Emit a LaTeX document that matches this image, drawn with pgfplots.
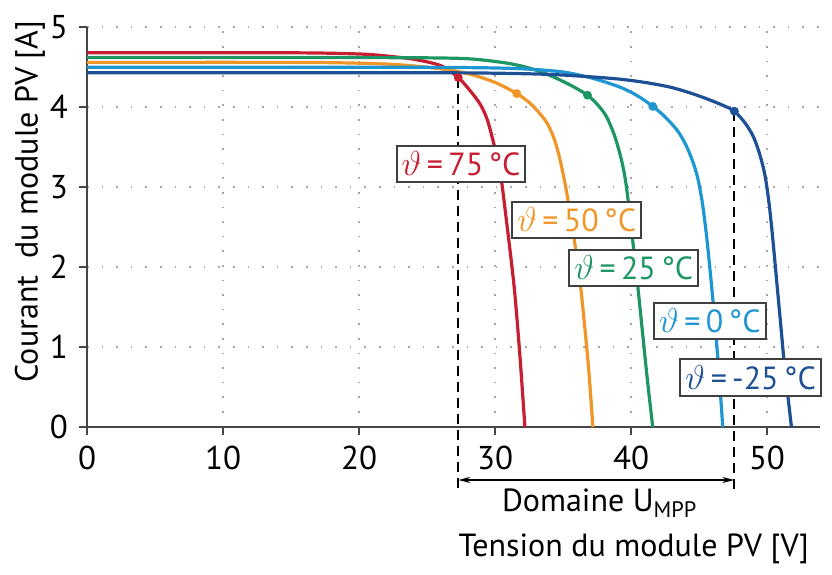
\documentclass[border=0pt]{standalone}
\usepackage{pgfplots}
\pgfplotsset{compat=1.18}
\usepackage{fontspec}
\setmainfont{PT Sans}
\usetikzlibrary{arrows.meta}
\definecolor{cred}{RGB}{200,30,50}
\definecolor{corange}{RGB}{240,150,40}
\definecolor{cgreen}{RGB}{30,150,100}
\definecolor{clblue}{RGB}{30,150,210}
\definecolor{cdblue}{RGB}{30,80,150}
\definecolor{axgray}{RGB}{70,70,70}
\begin{document}
\begin{tikzpicture}
\fontsize{16}{18}\selectfont
\begin{axis}[
  scale only axis,
  width=366.5pt, height=200pt,
  xmin=0, xmax=53.9, ymin=0, ymax=5,
  axis lines=left,
  axis line style={-, axgray, line width=1pt},
  xtick={0,10,20,30,40,50},
  ytick={0,1,2,3,4,5},
  tick align=outside,
  major tick length=4pt,
  tick style={axgray, line width=1pt},
  grid=major,
  major grid style={gray!70, line width=1.1pt, dash pattern=on 0.8pt off 6.5pt},
  ticklabel style={font=\fontsize{16.5}{18}\selectfont},
  /pgf/number format/assume math mode=true,
  clip=false,
]
% bounding box
\path (axis cs:-6.4,5.34) rectangle (axis cs:54.78,-1.7);
% dashed MPP range lines
\draw[black, line width=0.9pt, dash pattern=on 5pt off 3pt] (axis cs:27.3,4.37) -- (axis cs:27.3,-0.8);
\draw[black, line width=0.9pt, dash pattern=on 5pt off 3pt] (axis cs:47.6,3.95) -- (axis cs:47.6,-0.8);
\draw[black, line width=0.9pt, {Stealth[length=6pt,width=3pt]}-{Stealth[length=6pt,width=3pt]}] (axis cs:27.3,-0.66) -- (axis cs:47.6,-0.66);
\node[anchor=center] at (axis cs:37.7,-0.95) {Domaine U\textsubscript{MPP}};
\node[anchor=east] at (axis cs:53.9,-1.52) {Tension du module PV [V]};
\node[rotate=90, anchor=center] at (axis cs:-4.2,2.82) {Courant\ \ du module PV [A]};
% curves
\addplot[cred, line width=1.6pt, smooth, tension=0.5] coordinates {
 (0,4.68) (15,4.68) (20,4.665) (22,4.64) (24,4.6) (26,4.52) (27.3,4.37) (28.2,4.2)
 (28.9,4.04) (29.4,3.86) (29.8,3.62) (30.2,3.33) (30.5,3.05) (30.9,2.5) (31.25,2.0)
 (31.5,1.59) (31.85,0.85) (32.2,0)};
\addplot[corange, line width=1.6pt, smooth, tension=0.5] coordinates {
 (0,4.56) (15,4.56) (20,4.55) (23,4.53) (26,4.48) (28,4.42) (30,4.31) (31.6,4.17)
 (32.5,4.06) (33.3,3.92) (33.9,3.78) (34.4,3.58) (34.8,3.33) (35.2,3.0) (35.6,2.6)
 (35.95,2.2) (36.3,1.75) (36.6,1.25) (36.9,0.7) (37.2,0)};
\addplot[cgreen, line width=1.6pt, smooth, tension=0.5] coordinates {
 (0,4.62) (20,4.62) (26,4.615) (28.5,4.6) (30.9,4.55) (32.5,4.49) (34.0,4.40) (35.5,4.28)
 (36.8,4.15) (37.6,4.02) (38.2,3.88) (38.8,3.64) (39.3,3.34) (39.6,3.08) (39.9,2.68)
 (40.2,2.22) (40.5,1.76) (40.85,1.18) (41.2,0.6) (41.6,0)};
\addplot[clblue, line width=1.6pt, smooth, tension=0.5] coordinates {
 (0,4.50) (20,4.50) (28,4.495) (32,4.48) (35,4.44) (37.2,4.36) (39.2,4.25) (40.5,4.14)
 (41.6,4.01) (42.5,3.88) (43.4,3.71) (44.0,3.54) (44.5,3.34) (44.9,3.12) (45.25,2.8)
 (45.55,2.4) (45.85,1.9) (46.15,1.35) (46.45,0.72) (46.75,0)};
\addplot[cdblue, line width=1.6pt, smooth, tension=0.5] coordinates {
 (0,4.43) (25,4.43) (30,4.425) (34,4.41) (37,4.38) (39.2,4.35) (41,4.31) (42.9,4.25)
 (44.5,4.17) (45.8,4.09) (46.8,4.02) (47.6,3.95) (48.4,3.8) (49.0,3.63) (49.45,3.42)
 (49.85,3.15) (50.15,2.8) (50.4,2.4) (50.7,1.85) (51.0,1.3) (51.3,0.75) (51.8,0)};
% MPP markers
\addplot[only marks, mark=*, mark size=2pt, cred] coordinates {(27.3,4.37)};
\addplot[only marks, mark=*, mark size=2pt, corange] coordinates {(31.6,4.17)};
\addplot[only marks, mark=*, mark size=2pt, cgreen] coordinates {(36.8,4.15)};
\addplot[only marks, mark=*, mark size=2pt, clblue] coordinates {(41.6,4.01)};
\addplot[only marks, mark=*, mark size=2pt, cdblue] coordinates {(47.6,3.95)};
% labels
\tikzset{tlab/.style={draw=black!75, line width=1pt, fill=white, inner xsep=2.5pt, inner ysep=3pt, anchor=center, font=\fontsize{16}{18}\selectfont}}
\node[tlab, text=cred] at (axis cs:27.5,3.29) {$\vartheta$\,=\,75\,°C};
\node[tlab, text=corange] at (axis cs:36.0,2.59) {$\vartheta$\,=\,50\,°C};
\node[tlab, text=cgreen] at (axis cs:40.2,1.99) {$\vartheta$\,=\,25\,°C};
\node[tlab, text=clblue] at (axis cs:45.8,1.33) {$\vartheta$\,=\,0\,°C};
\node[tlab, text=cdblue] at (axis cs:48.8,0.62) {$\vartheta$\,=\,-25\,°C};
\end{axis}
\end{tikzpicture}
\end{document}
